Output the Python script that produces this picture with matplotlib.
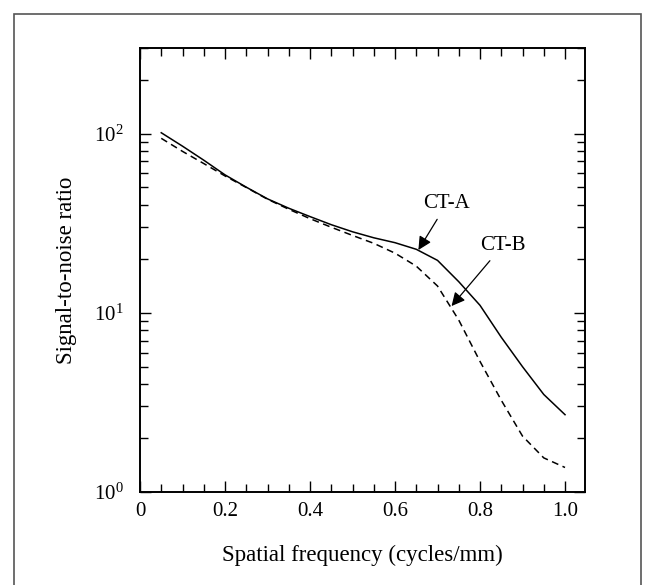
import matplotlib
matplotlib.use('Agg')
import matplotlib.pyplot as plt
import matplotlib.ticker as mticker
from matplotlib.patches import Rectangle
import numpy as np

plt.rcParams['font.family'] = ['Liberation Serif', 'DejaVu Serif']
plt.rcParams['mathtext.fontset'] = 'custom'
plt.rcParams['mathtext.rm'] = 'Liberation Serif'
plt.rcParams['mathtext.it'] = 'Liberation Serif:italic'

# spatial frequency (cycles/mm)
freq = [0.05, 0.10, 0.15, 0.20, 0.25, 0.30, 0.35, 0.40, 0.45, 0.50,
        0.55, 0.60, 0.65, 0.70, 0.75, 0.80, 0.85, 0.90, 0.95, 1.00]
# signal-to-noise ratio
snr_ct_a = [101, 85, 71, 58.8, 50.2, 43.2, 38.3, 34.4, 31.0, 28.3,
            26.2, 24.6, 22.6, 19.6, 14.9, 11.0, 7.3, 5.0, 3.5, 2.7]
snr_ct_b = [94, 79.5, 68, 58, 50, 43, 37.8, 33.5, 30.0, 27.0,
            24.4, 21.5, 18.2, 14.1, 9.1, 5.35, 3.25, 2.05, 1.55, 1.37]

x_ticks = [0, 0.2, 0.4, 0.6, 0.8, 1.0]
x_tick_labels = ['0', '0.2', '0.4', '0.6', '0.8', '1.0']

fig = plt.figure(figsize=(6.45, 5.85), dpi=100)
ax = fig.add_axes([140 / 645, 1 - 492 / 585, 445 / 645, 444 / 585])

ax.plot(freq, snr_ct_a, color='black', lw=1.1)
ax.plot(freq, snr_ct_b, color='black', lw=1.1, linestyle=(0, (4.5, 3)))

ax.set_yscale('log')
ax.set_xlim(0, 1.047)
ax.set_ylim(1, 300)

ax.set_xticks(x_ticks)
ax.set_xticklabels(x_tick_labels)
ax.xaxis.set_minor_locator(mticker.MultipleLocator(0.05))
ax.yaxis.set_major_locator(mticker.LogLocator(base=10, numticks=10))
ax.yaxis.set_minor_locator(mticker.LogLocator(base=10, subs=np.arange(2, 10), numticks=20))
ax.yaxis.set_major_formatter(mticker.LogFormatterMathtext())
ax.yaxis.set_minor_formatter(mticker.NullFormatter())

ax.tick_params(which='both', direction='in', top=True, right=True, width=1.0, labelsize=15)
ax.tick_params(which='major', length=8)
ax.tick_params(which='minor', length=5.5)
ax.tick_params(axis='x', pad=7)
ax.tick_params(axis='y', pad=12)
for s in ax.spines.values():
    s.set_linewidth(1.4)

ax.set_xlabel('Spatial frequency (cycles/mm)', fontsize=16.5, labelpad=17)
ax.set_ylabel('Signal-to-noise ratio', fontsize=16.5, labelpad=12)

arrow = dict(arrowstyle='-|>', color='black', lw=0.9, mutation_scale=20, shrinkA=3, shrinkB=0)
ax.annotate('CT-A', xy=(0.655, 22.4), xytext=(0.722, 40.7), fontsize=15,
            ha='center', va='center', arrowprops=arrow)
ax.annotate('CT-B', xy=(0.733, 10.9), xytext=(0.854, 23.8), fontsize=15,
            ha='center', va='center', arrowprops=arrow)

# frame around the whole figure
fig.patches.append(Rectangle((14 / 645, -0.05), 627 / 645, 1.05 - 14 / 585,
                             transform=fig.transFigure, fill=False,
                             edgecolor='#555555', lw=1.2))

fig.savefig('out.png', dpi=100)
